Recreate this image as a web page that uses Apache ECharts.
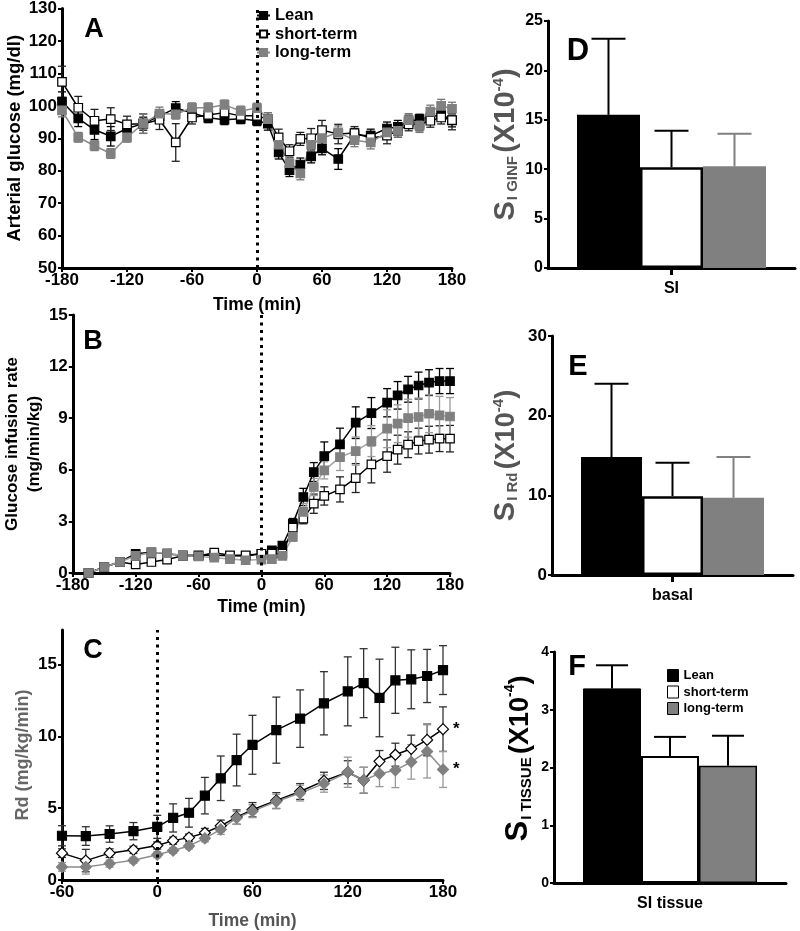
<!DOCTYPE html>
<html><head><meta charset="utf-8">
<script src="https://cdn.jsdelivr.net/npm/echarts@6/dist/echarts.min.js"></script>
<style>html,body{margin:0;padding:0;background:#fff}#c{width:800px;height:931px}</style>
</head><body><div id="c"></div>
<script>
// ---------- DATA ----------
const groups = ['Lean', 'short-term', 'long-term'];

// Panel A: arterial glucose (mg/dl)
const timeA = [-180,-165,-150,-135,-120,-105,-90,-75,-60,-45,-30,-15,0,10,20,30,40,50,60,75,90,105,120,130,140,150,160,170,180];
const gluLean  = [101.3,96.1,92.6,90.6,93.0,94.5,96.8,99.3,97.8,96.3,95.7,96.0,95.4,94.5,85.6,80.2,81.9,84.4,86.9,83.6,91.0,90.8,93.0,93.5,95.1,95.9,96.4,97.4,95.5];
const gluShort = [107.4,99.4,95.4,95.9,94.3,94.5,95.7,88.7,96.4,97.2,97.9,96.9,96.9,95.9,90.3,86.0,89.8,90.0,92.5,91.3,91.6,90.1,90.8,92.3,94.3,94.3,95.4,96.4,95.6];
const gluLong  = [98.6,90.3,87.7,85.3,90.3,94.5,97.6,97.4,99.4,99.4,100.3,98.4,99.3,95.9,88.0,82.3,79.2,88.0,90.0,91.8,89.4,88.7,91.8,92.3,95.6,93.8,98.2,100.0,99.1];
const gluLeanSem  = [3,2.5,3,3,2,2,1.5,2,1.5,1.5,1.5,1.5,1.5,2,2,2,2,2,2,3.2,2,2,2,2,2,1.5,1.5,1.5,2];
const gluShortSem = [4.8,3.5,3.5,3.5,2.5,3,3,5.8,2,2,2,2,2,2,2.5,2,2,3,3,3,2,2,2.5,2,2,2,2,2,3];
const gluLongSem  = [2,1.5,1.5,1.5,1.5,3,2,1.5,1.5,1.5,1.5,1.5,1.5,2,2,2,2,2,2,2,2,2,2,2,2,2,2,2,2];

// Panel B: glucose infusion rate (mg/min/kg)
const timeB = [-165,-150,-135,-120,-105,-90,-75,-60,-45,-30,-15,0,10,20,30,40,50,60,75,90,105,120,130,140,150,160,170,180];
const ginfLean  = [0,0.35,0.64,1.12,1.2,1.1,1.03,1.03,1.03,1.0,0.99,1.12,1.32,1.6,2.87,4.42,5.87,6.8,7.48,8.74,9.3,9.9,10.33,10.68,10.9,11.07,11.16,11.16];
const ginfShort = [0,0.35,0.64,0.5,0.64,0.78,1.0,0.99,1.18,1.03,1.03,1.12,1.12,1.12,2.64,3.16,4.03,4.48,4.86,5.52,6.32,6.8,7.17,7.46,7.67,7.75,7.81,7.81];
const ginfLong  = [0,0.35,0.64,1.0,1.18,1.16,1.0,0.97,0.89,0.81,0.74,0.78,0.81,1.0,2.1,3.55,5.0,5.97,6.74,7.09,7.67,8.39,8.68,9.0,9.07,9.26,9.17,9.1];
const ginfLeanSem  = [0,0.05,0.1,0.2,0.15,0.15,0.12,0.12,0.12,0.12,0.12,0.12,0.15,0.2,0.3,0.5,0.55,0.82,0.94,0.92,0.9,0.82,0.8,0.75,0.78,0.75,0.73,0.73];
const ginfShortSem = [0,0.05,0.1,0.1,0.1,0.1,0.12,0.12,0.12,0.12,0.12,0.12,0.12,0.15,0.2,0.3,0.56,0.53,0.73,0.84,1.08,0.94,0.84,0.75,0.75,0.78,0.75,0.77];
const ginfLongSem  = [0,0.05,0.1,0.15,0.15,0.15,0.12,0.12,0.12,0.12,0.12,0.12,0.12,0.15,0.25,0.5,0.5,0.5,0.78,0.82,0.9,1.1,1.1,1.1,1.1,1.1,1.1,1.1];

// Panel C: Rd (mg/kg/min)
const timeC = [-60,-45,-30,-15,0,10,20,30,40,50,60,75,90,105,120,130,140,150,160,170,180];
const rdLean  = [3.08,3.06,3.2,3.4,3.7,4.32,4.68,5.87,7.08,8.35,9.41,10.43,11.23,12.3,13.13,13.7,12.67,13.9,13.97,14.2,14.61];
const rdShort = [1.87,1.35,1.87,2.1,2.4,2.74,2.95,3.29,3.77,4.38,4.89,5.53,6.16,6.9,7.5,6.94,8.26,8.72,9.13,9.75,10.5];
const rdLong  = [0.91,0.91,1.14,1.37,1.76,2.05,2.37,2.9,3.52,4.32,4.79,5.46,6.05,6.71,7.5,6.94,7.4,7.63,8.22,8.95,7.69];
const rdLeanSem  = [0.7,0.65,0.57,0.6,0.8,0.98,1.0,1.27,1.55,1.8,2.05,2.3,2.0,2.2,2.4,2.4,2.7,2.3,2.05,1.85,1.7];
const rdShortSem = [0.3,0.78,0.3,0.25,0.25,0.25,0.25,0.3,0.4,0.5,0.5,0.55,0.55,0.6,0.8,0.9,0.75,0.8,0.95,1.1,1.55];
const rdLongSem  = [0.3,0.5,0.25,0.2,0.2,0.2,0.2,0.25,0.35,0.45,0.45,0.5,0.55,0.6,1.05,0.9,0.9,1.2,1.2,1.85,1.25];

// Panels D, E, F: bar means and SEM (x10^-4)
const catD = ['SI'];        const siGinf = [15.5, 10.2, 10.3];  const siGinfSem = [7.7, 3.7, 3.3];
const catE = ['basal'];     const siRd = [14.8, 9.9, 9.7];      const siRdSem = [9.2, 4.2, 5.1];
const catF = ['SI tissue']; const siTissue = [3.37, 2.2, 2.03]; const siTissueSem = [0.40, 0.33, 0.52];

// ---------- CHART ----------
const FF = '"Liberation Sans", Arial, Helvetica, sans-serif';
const GRAY = '#808080';

function axisBase(fontSize, grid) {
  return {
    gridIndex: grid,
    axisLine: { show: true, onZero: false, lineStyle: { color: '#000', width: 3 } },
    axisTick: { show: true, length: 4, lineStyle: { color: '#000', width: 2 } },
    axisLabel: { color: '#000', fontWeight: 'bold', fontSize: fontSize, fontFamily: FF, margin: 5 },
    splitLine: { show: false },
    nameTextStyle: { color: '#000', fontWeight: 'bold', fontSize: 17, fontFamily: FF }
  };
}
function valX(grid, min, max, interval, name, gap, nameColor) {
  const a = axisBase(17, grid);
  Object.assign(a, { type: 'value', min, max, interval, name, nameLocation: 'middle', nameGap: gap });
  a.axisLabel.margin = 4;
  a.nameTextStyle.fontSize = 17.5;
  if (nameColor) a.nameTextStyle.color = nameColor;
  return a;
}
function valY(grid, min, max, interval, name, gap, fs, extra) {
  const a = axisBase(fs, grid);
  Object.assign(a, { type: 'value', min, max, interval, name, nameLocation: 'middle', nameRotate: 90, nameGap: gap });
  if (extra) extra(a);
  return a;
}
function catX(grid, cats, tick) {
  const a = axisBase(16, grid);
  Object.assign(a, { type: 'category', data: cats });
  a.axisTick = { show: tick, alignWithLabel: true, length: 7, lineStyle: { color: '#000', width: 3 } };
  a.axisLabel.margin = 13;
  return a;
}

function lineS(name, xi, times, vals, symbol, size, fill, border, lineColor, star) {
  return {
    type: 'line', name, xAxisIndex: xi, yAxisIndex: xi, z: 4,
    data: times.map((t, i) => {
      if (star && i === times.length - 1) {
        return { value: [t, vals[i]], label: { show: true, position: 'right', distance: 4, formatter: '*',
          color: '#000', fontSize: 17, fontWeight: 'bold', fontFamily: FF } };
      }
      return [t, vals[i]];
    }),
    symbol, symbolSize: size, showAllSymbol: true,
    itemStyle: { color: fill, borderColor: border, borderWidth: 1.2 },
    lineStyle: { color: lineColor, width: 1.5 },
    emphasis: { disabled: true }, animation: false
  };
}
function errS(xi, times, vals, sems, color, cap) {
  return {
    type: 'custom', xAxisIndex: xi, yAxisIndex: xi, z: 3, silent: true, animation: false,
    encode: { x: 0, y: [1, 2] },
    data: times.map((t, i) => [t, vals[i] - sems[i], vals[i] + sems[i]]),
    renderItem: (p, api) => {
      const a = api.coord([api.value(0), api.value(1)]);
      const b = api.coord([api.value(0), api.value(2)]);
      const st = { stroke: color, lineWidth: 1.3 };
      return { type: 'group', children: [
        { type: 'line', shape: { x1: a[0], y1: a[1], x2: b[0], y2: b[1] }, style: st },
        { type: 'line', shape: { x1: a[0] - cap, y1: a[1], x2: a[0] + cap, y2: a[1] }, style: st },
        { type: 'line', shape: { x1: b[0] - cap, y1: b[1], x2: b[0] + cap, y2: b[1] }, style: st }
      ] };
    }
  };
}
function dotLine() {
  return { silent: true, symbol: 'none', label: { show: false },
    lineStyle: { color: '#000', type: [3, 4.5], width: 3 }, data: [{ xAxis: 0 }] };
}

const barStyles = [
  { color: '#000', borderColor: '#000', borderWidth: 0 },
  { color: '#fff', borderColor: '#000', borderWidth: 2.5 },
  { color: GRAY, borderColor: GRAY, borderWidth: 0 }
];
const barStylesF = [
  { color: '#000', borderColor: '#000', borderWidth: 1 },
  { color: '#fff', borderColor: '#000', borderWidth: 2 },
  { color: GRAY, borderColor: '#000', borderWidth: 1.5 }
];
function barSet(xi, vals, sems, width, styles, errColors, cap) {
  const out = [];
  groups.forEach((g, k) => {
    out.push({ type: 'bar', name: g, xAxisIndex: xi, yAxisIndex: xi, data: [vals[k]], barWidth: width,
      barGap: '0%', itemStyle: styles[k], z: 2, emphasis: { disabled: true }, animation: false });
  });
  groups.forEach((g, k) => {
    const dx = (k - 1) * width;
    out.push({ type: 'custom', xAxisIndex: xi, yAxisIndex: xi, z: 1, silent: true, animation: false,
      encode: { x: 0, y: [1, 2] },
      data: [[0, vals[k], vals[k] + sems[k]]],
      renderItem: (p, api) => {
        const a = api.coord([api.value(0), api.value(1)]);
        const b = api.coord([api.value(0), api.value(2)]);
        const x = a[0] + dx;
        const st = { stroke: errColors[k], lineWidth: 2 };
        return { type: 'group', children: [
          { type: 'line', shape: { x1: x, y1: a[1], x2: x, y2: b[1] }, style: st },
          { type: 'line', shape: { x1: x - cap, y1: b[1], x2: x + cap, y2: b[1] }, style: st }
        ] };
      } });
  });
  return out;
}

const richTitle = (sFs, subFs, pFs, supFs, color) => ({
  s: { fontSize: sFs, fontWeight: 'bold', fontFamily: FF, color: color, verticalAlign: 'bottom' },
  sub: { fontSize: subFs, fontWeight: 'bold', fontFamily: FF, color: color, verticalAlign: 'bottom', padding: [0, 0, 0, 1] },
  p: { fontSize: pFs, fontWeight: 'bold', fontFamily: FF, color: color, verticalAlign: 'bottom' },
  sup: { fontSize: supFs, fontWeight: 'bold', fontFamily: FF, color: color, verticalAlign: 'top' }
});

const option = {
  backgroundColor: '#fff',
  animation: false,
  textStyle: { fontFamily: FF },
  grid: [
    { left: 62, top: 7, width: 390, height: 261 },
    { left: 62, top: 315, width: 388, height: 258 },
    { left: 62, top: 630, width: 381, height: 254 },
    { left: 548, top: 21, width: 247, height: 247 },
    { left: 552, top: 336, width: 241, height: 239 },
    { left: 554, top: 652, width: 232, height: 231 }
  ],
  xAxis: [
    valX(0, -180, 180, 60, 'Time (min)', 28),
    valX(1, -180, 180, 60, 'Time (min)', 25),
    valX(2, -60, 180, 60, 'Time (min)', 32, '#555'),
    catX(3, catD, true),
    catX(4, catE, true),
    catX(5, catF, false)
  ],
  yAxis: [
    valY(0, 50, 130, 10, 'Arterial glucose (mg/dl)', 36, 17, a => { a.nameTextStyle.fontSize = 18.5; }),
    valY(1, 0, 15, 3, 'Glucose infusion rate\n(mg/min/kg)', 22, 17, a => { a.nameTextStyle.lineHeight = 22; }),
    valY(2, 0, 17.4, 5, 'Rd (mg/kg/min)', 30, 17, a => {
      a.nameTextStyle.color = '#666';
      a.nameTextStyle.fontSize = 18;
      a.axisLabel.customValues = [0, 5, 10, 15];
      a.axisTick.customValues = [0, 5, 10, 15];
    }),
    valY(3, 0, 25, 5, '{s|S}{sub|I GINF} {p|(X10}{sup|-4}{p|)}', 28, 16, a => {
      a.nameTextStyle = { rich: richTitle(29, 15, 29, 15, '#555') };
    }),
    valY(4, 0, 30, 10, '{s|S}{sub|I Rd} {p|(X10}{sup|-4}{p|)}', 32, 17, a => {
      a.nameTextStyle = { rich: richTitle(29, 15, 27, 15, '#555') };
    }),
    valY(5, 0, 4, 1, '{s|S}{sub|I TISSUE} {p|(X10}{sup|-4}{p|)}', 20, 14, a => {
      a.nameTextStyle = { rich: richTitle(31, 15, 27, 14, '#000'), padding: [0, 0, 0, 18] };
    })
  ],
  legend: [
    { left: 256, top: 7, orient: 'vertical', padding: 0, itemWidth: 13, itemHeight: 9, itemGap: 1.5,
      textStyle: { fontSize: 16.5, fontWeight: 'bold', fontFamily: FF, color: '#000' },
      data: groups, selectedMode: false },
    { left: 667, top: 669, orient: 'vertical', padding: 0, itemWidth: 11, itemHeight: 12, itemGap: 3.5,
      itemStyle: {}, selectedMode: false,
      textStyle: { fontSize: 13, fontWeight: 'bold', fontFamily: FF, color: '#000' },
      data: [
        { name: 'Lean', icon: 'rect', itemStyle: { color: '#000', borderColor: '#000', borderWidth: 1 } },
        { name: 'short-term', icon: 'rect', itemStyle: { color: '#fff', borderColor: '#000', borderWidth: 1 } },
        { name: 'long-term', icon: 'rect', itemStyle: { color: GRAY, borderColor: '#000', borderWidth: 1 } }
      ] }
  ],
  graphic: [
    ['A', 94, 30, 27], ['B', 93, 342, 27], ['C', 93, 651, 27],
    ['D', 578, 51, 31], ['E', 578, 367, 29], ['F', 577, 667, 29]
  ].map(([t, x, y, fs]) => ({
    type: 'text', x, y, silent: true,
    style: { text: t, fontSize: fs, fontWeight: 'bold', fontFamily: FF, fill: '#000', align: 'center', verticalAlign: 'middle' }
  })),
  series: [
    // A
    Object.assign(lineS('Lean', 0, timeA, gluLean, 'rect', 8.5, '#000', '#000', '#000'), { markLine: dotLine() }),
    lineS('short-term', 0, timeA, gluShort, 'rect', 8.5, '#fff', '#000', '#000'),
    lineS('long-term', 0, timeA, gluLong, 'rect', 8.5, GRAY, GRAY, '#8c8c8c'),
    errS(0, timeA, gluLean, gluLeanSem, '#000', 4),
    errS(0, timeA, gluShort, gluShortSem, '#222', 4),
    errS(0, timeA, gluLong, gluLongSem, '#777', 4),
    // B
    Object.assign(lineS('Lean', 1, timeB, ginfLean, 'rect', 8.5, '#000', '#000', '#000'), { markLine: dotLine() }),
    lineS('short-term', 1, timeB, ginfShort, 'rect', 8.5, '#fff', '#000', '#000'),
    lineS('long-term', 1, timeB, ginfLong, 'rect', 8.5, GRAY, GRAY, '#a6a6a6'),
    errS(1, timeB, ginfLean, ginfLeanSem, '#000', 4),
    errS(1, timeB, ginfShort, ginfShortSem, '#222', 4),
    errS(1, timeB, ginfLong, ginfLongSem, '#999', 4),
    // C
    Object.assign(lineS('Lean', 2, timeC, rdLean, 'rect', 9, '#000', '#000', '#000'), { markLine: dotLine() }),
    lineS('short-term', 2, timeC, rdShort, 'diamond', 11, '#fff', '#000', '#000', true),
    lineS('long-term', 2, timeC, rdLong, 'diamond', 11, GRAY, GRAY, '#8c8c8c', true),
    errS(2, timeC, rdLean, rdLeanSem, '#333', 4),
    errS(2, timeC, rdShort, rdShortSem, '#333', 4),
    errS(2, timeC, rdLong, rdLongSem, '#999', 4),
    // D, E, F
    ...barSet(3, siGinf, siGinfSem, 63, barStyles, ['#000', '#000', GRAY], 17),
    ...barSet(4, siRd, siRdSem, 61, barStyles, ['#000', '#000', GRAY], 17),
    ...barSet(5, siTissue, siTissueSem, 58, barStylesF, ['#000', '#000', '#000'], 16)
  ]
};

const chart = echarts.init(document.getElementById('c'), null, { renderer: 'canvas' });
chart.setOption(option);
</script>
</body></html>
